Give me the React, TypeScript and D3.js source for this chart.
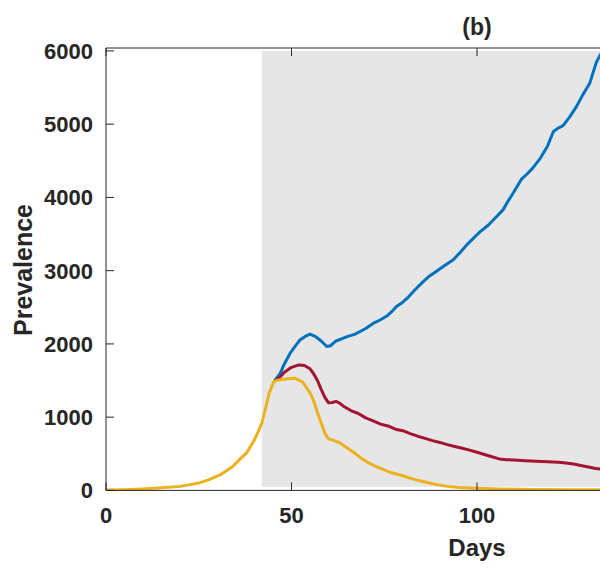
import React, { useEffect, useRef } from 'react';
import * as d3 from 'd3';

// yellow: baseline run, the other two branch off around day 45
const yellowDays = [0, 5, 10, 15, 20, 25, 28, 31, 34, 36, 38, 40, 41, 42, 43, 44, 45, 45.3, 46, 47, 49, 51, 53, 55, 56, 57, 58, 59, 60, 61, 62, 63, 65, 67, 69, 71, 73, 75, 77, 80, 83, 86, 89, 92, 95, 100, 106, 115, 125, 135];
const yellowValues = [5, 10, 20, 35, 55, 100, 150, 220, 320, 420, 520, 690, 800, 920, 1120, 1330, 1460, 1485, 1500, 1510, 1525, 1530, 1480, 1330, 1220, 1060, 920, 780, 700, 690, 670, 650, 580, 510, 430, 370, 320, 280, 240, 200, 150, 115, 80, 55, 40, 28, 19, 14, 10, 8];

const redDays = [45.3, 47, 48, 50, 52, 53.5, 55, 56, 57, 58, 59, 60, 61, 62, 63, 64, 66, 68, 70, 72, 74, 76, 78, 80, 82, 84, 86, 88, 90, 92, 94, 96, 98, 100, 102, 104, 106, 108, 110, 113, 116, 119, 122, 124, 126, 128, 130, 132, 134];
const redValues = [1485, 1550, 1610, 1680, 1713, 1705, 1660, 1590, 1500, 1380, 1270, 1195, 1200, 1215, 1190, 1150, 1090, 1050, 990, 950, 905, 880, 835, 815, 775, 740, 710, 680, 655, 625, 600, 575, 550, 520, 490, 460, 430, 420, 415, 405, 398, 390, 385, 375, 360, 340, 320, 300, 285];

const blueDays = [45.3, 47, 48, 49.6, 51, 52.3, 54, 55, 56.5, 58, 59.5, 60.5, 62, 63.5, 65, 67, 68.5, 70, 72, 74, 75.7, 77, 78.3, 80, 81.5, 83.3, 85.5, 87, 89, 91, 93.6, 95.5, 97.2, 99, 100.8, 103, 105.3, 107, 108.5, 110, 112, 113.5, 115, 117, 119, 120.6, 122, 123.2, 125, 126.8, 128.5, 130.4, 132.2, 133.5, 135];
const blueValues = [1485, 1600, 1720, 1870, 1970, 2055, 2110, 2133, 2100, 2040, 1965, 1975, 2040, 2070, 2100, 2130, 2170, 2210, 2280, 2330, 2380, 2440, 2510, 2570, 2640, 2740, 2850, 2920, 2990, 3060, 3150, 3250, 3350, 3440, 3530, 3620, 3740, 3830, 3960, 4080, 4250, 4320, 4400, 4530, 4700, 4900, 4950, 4980, 5100, 5240, 5400, 5560, 5850, 5970, 6100];

const xTicks = [0, 50, 100, 150, 200];
const yTicks = [0, 1000, 2000, 3000, 4000, 5000, 6000];
const shadeDays = [42, 200];
const shadeValues = [50, 6000];

const series = [
  { days: blueDays, values: blueValues, color: '#0072BD' },
  { days: redDays, values: redValues, color: '#A2142F' },
  { days: yellowDays, values: yellowValues, color: '#EDB120' },
];

const App = () => {
  const svgRef = useRef<SVGSVGElement>(null);

  useEffect(() => {
    const width = 600;
    const height = 572;
    const font = '"Liberation Sans", Arial, Helvetica, sans-serif';
    const axisColor = '#262626';

    const svg = d3.select(svgRef.current)
      .attr('width', width)
      .attr('height', height);
    svg.selectAll('*').remove();

    // full axes runs to day 200, the picture only shows the left part
    const x = d3.scaleLinear().domain([0, 200]).range([106, 848]);
    const y = d3.scaleLinear().domain([0, 6040]).range([490.4, 48]);

    svg.append('defs').append('clipPath')
      .attr('id', 'plot-clip')
      .append('rect')
      .attr('x', x(0))
      .attr('y', y(6040))
      .attr('width', x(200) - x(0))
      .attr('height', y(0) - y(6040));

    // grey intervention period
    svg.append('rect')
      .attr('x', x(shadeDays[0]))
      .attr('y', y(shadeValues[1]))
      .attr('width', x(shadeDays[1]) - x(shadeDays[0]))
      .attr('height', y(shadeValues[0]) - y(shadeValues[1]))
      .attr('fill', '#e6e6e6');

    const line = d3.line<[number, number]>()
      .x(d => x(d[0]))
      .y(d => y(d[1]));

    const plot = svg.append('g').attr('clip-path', 'url(#plot-clip)');
    series.forEach(s => {
      plot.append('path')
        .datum(s.days.map((d, i) => [d, s.values[i]] as [number, number]))
        .attr('d', line)
        .attr('fill', 'none')
        .attr('stroke', s.color)
        .attr('stroke-width', 3)
        .attr('stroke-linejoin', 'round');
    });

    // box and inward ticks
    const axes = svg.append('g').attr('stroke', axisColor).attr('stroke-width', 1);
    axes.append('line').attr('x1', x(0)).attr('x2', x(200)).attr('y1', y(0)).attr('y2', y(0));
    axes.append('line').attr('x1', x(0)).attr('x2', x(200)).attr('y1', y(6040)).attr('y2', y(6040));
    axes.append('line').attr('x1', x(0)).attr('x2', x(0)).attr('y1', y(0)).attr('y2', y(6040));

    xTicks.forEach(t => {
      axes.append('line').attr('x1', x(t)).attr('x2', x(t)).attr('y1', y(0)).attr('y2', y(0) - 8);
      axes.append('line').attr('x1', x(t)).attr('x2', x(t)).attr('y1', y(6040)).attr('y2', y(6040) + 8);
    });
    yTicks.forEach(t => {
      axes.append('line').attr('x1', x(0)).attr('x2', x(0) + 8).attr('y1', y(t)).attr('y2', y(t));
    });

    const labels = svg.append('g')
      .attr('font-family', font)
      .attr('font-weight', 'bold')
      .attr('fill', axisColor);

    // only the labels that fall inside the visible part
    labels.selectAll('.xtick')
      .data(xTicks.filter(t => x(t) < width - 30))
      .join('text')
      .attr('class', 'xtick')
      .attr('x', d => x(d))
      .attr('y', 523)
      .attr('text-anchor', 'middle')
      .attr('font-size', 22)
      .text(d => d);

    labels.selectAll('.ytick')
      .data(yTicks)
      .join('text')
      .attr('class', 'ytick')
      .attr('x', 93)
      .attr('y', d => y(d) + 8)
      .attr('text-anchor', 'end')
      .attr('font-size', 22)
      .text(d => d);

    labels.append('text')
      .attr('x', x(100))
      .attr('y', 556)
      .attr('text-anchor', 'middle')
      .attr('font-size', 24)
      .text('Days');

    labels.append('text')
      .attr('transform', `translate(32, 270) rotate(-90)`)
      .attr('text-anchor', 'middle')
      .attr('font-size', 25)
      .text('Prevalence');

    labels.append('text')
      .attr('x', x(100))
      .attr('y', 35)
      .attr('text-anchor', 'middle')
      .attr('font-size', 23)
      .text('(b)');
  }, []);

  return (
    <svg ref={svgRef} style={{ position: 'absolute', left: 0, top: 0 }}></svg>
  );
};

export default App;
